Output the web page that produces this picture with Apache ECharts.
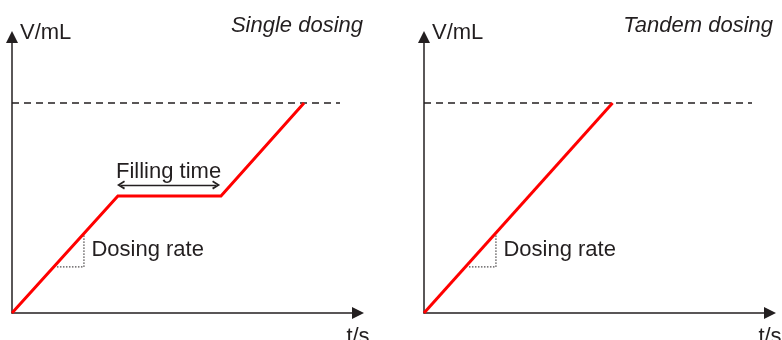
<!DOCTYPE html>
<html><head><meta charset="utf-8">
<script src="https://cdn.jsdelivr.net/npm/echarts@6/dist/echarts.min.js"></script>
<style>html,body{margin:0;padding:0;background:#fff}#c{width:782px;height:340px}</style>
</head><body><div id="c"></div>
<script>
// ---- data (axis units: t and V scaled 0..100) ----
const panelTitles = ['Single dosing', 'Tandem dosing'];
const axisNames = { x: 't/s', y: 'V/mL' };
const singleT = [0, 30.6, 60.4, 84.4];
const singleV = [0, 42.4, 42.4, 76.1];
const tandemT = [0, 54.5];
const tandemV = [0, 76.1];
const targetV = 76.1;
const targetLineT = [0, 94.8];
const rateTriT = [13.0, 20.8, 20.8];
const rateTriV = [16.7, 16.7, 28.3];
const fillArrowT = [31.5, 59.0];
const fillArrowV = 46.4;
const fillLabel = { text: 'Filling time', t: 45.4, v: 51.1 };
const rateLabel = { text: 'Dosing rate', t: 23.1, v: 22.5 };

const FONT = "'Liberation Sans', Arial, Helvetica, sans-serif";
const INK = '#231f20';
const chevron = 'path://M5,0 L10,8 L8.2,9 L5,3.6 L1.8,9 L0,8 Z';

const zip = (a, b) => a.map((x, i) => [x, b[i]]);

const grids = [
  { left: 12, right: 424, top: 37, bottom: 27, outerBoundsMode: 'none', containLabel: false },
  { left: 424, right: 12, top: 37, bottom: 27, outerBoundsMode: 'none', containLabel: false }
];

function xAxis(i) {
  return {
    type: 'value', gridIndex: i, min: 0, max: 100,
    axisLine: { show: true, onZero: false, symbol: ['none', 'triangle'], symbolSize: [12, 12],
      lineStyle: { color: INK, width: 1.5 } },
    axisTick: { show: false }, axisLabel: { show: false }, splitLine: { show: false },
    name: axisNames.x, nameLocation: 'end', nameGap: 0, nameMoveOverlap: false,
    nameTextStyle: { fontFamily: FONT, fontSize: 22, color: INK, align: 'center',
      verticalAlign: 'top', lineHeight: 22, padding: [13, 0, 0, 0] }
  };
}
function yAxis(i) {
  return {
    type: 'value', gridIndex: i, min: 0, max: 100,
    axisLine: { show: true, onZero: false, symbol: ['none', 'triangle'], symbolSize: [12, 12],
      lineStyle: { color: INK, width: 1.5 } },
    axisTick: { show: false }, axisLabel: { show: false }, splitLine: { show: false },
    name: axisNames.y, nameLocation: 'end', nameGap: 4, nameMoveOverlap: false,
    nameTextStyle: { fontFamily: FONT, fontSize: 22, color: INK, align: 'left',
      verticalAlign: 'middle', lineHeight: 22, padding: [0, 0, 0, 8] }
  };
}

function textPoints(list) {
  return {
    silent: true, symbol: 'circle', symbolSize: 1,
    itemStyle: { color: 'rgba(0,0,0,0)' },
    label: { show: true, color: INK, fontFamily: FONT, fontSize: 22 },
    data: list.map(p => ({
      coord: [p.t, p.v], value: p.text,
      label: { formatter: p.text, position: [0, 0], align: p.align, verticalAlign: 'middle' }
    }))
  };
}

function panelSeries(i, t, v, extraText, withArrow) {
  const s = [];
  s.push({
    type: 'line', xAxisIndex: i, yAxisIndex: i, silent: true, symbol: 'none',
    data: zip(targetLineT, targetLineT.map(() => targetV)),
    lineStyle: { color: INK, width: 1.4, type: [7, 5] }
  });
  s.push({
    type: 'line', xAxisIndex: i, yAxisIndex: i, silent: true, symbol: 'none',
    data: zip(rateTriT, rateTriV),
    lineStyle: { color: INK, width: 1, type: [1.5, 1.5] }
  });
  const red = {
    type: 'line', xAxisIndex: i, yAxisIndex: i, silent: true, symbol: 'none',
    data: zip(t, v), lineStyle: { color: '#ff0000', width: 3, join: 'miter' },
    markPoint: textPoints(extraText)
  };
  if (withArrow) {
    red.markLine = {
      silent: true, symbol: [chevron, chevron], symbolSize: [9, 8],
      label: { show: false },
      lineStyle: { color: INK, width: 1.4, type: 'solid' },
      emphasis: { disabled: true },
      data: [[{ coord: [fillArrowT[0], fillArrowV] }, { coord: [fillArrowT[1], fillArrowV] }]]
    };
  }
  s.push(red);
  return s;
}

const chart = echarts.init(document.getElementById('c'), null, { renderer: 'canvas' });
chart.setOption({
  animation: false,
  backgroundColor: '#fff',
  title: [
    { text: panelTitles[0], right: 419, top: 15, padding: 0,
      textStyle: { fontFamily: FONT, fontSize: 22, fontStyle: 'italic', fontWeight: 'normal', color: INK, lineHeight: 22 } },
    { text: panelTitles[1], right: 9, top: 15, padding: 0,
      textStyle: { fontFamily: FONT, fontSize: 22, fontStyle: 'italic', fontWeight: 'normal', color: INK, lineHeight: 22 } }
  ],
  grid: grids,
  xAxis: [xAxis(0), xAxis(1)],
  yAxis: [yAxis(0), yAxis(1)],
  series: [
    ...panelSeries(0, singleT, singleV,
      [Object.assign({ align: 'center' }, fillLabel), Object.assign({ align: 'left' }, rateLabel)], true),
    ...panelSeries(1, tandemT, tandemV, [Object.assign({ align: 'left' }, rateLabel)], false)
  ]
});
</script></body></html>
